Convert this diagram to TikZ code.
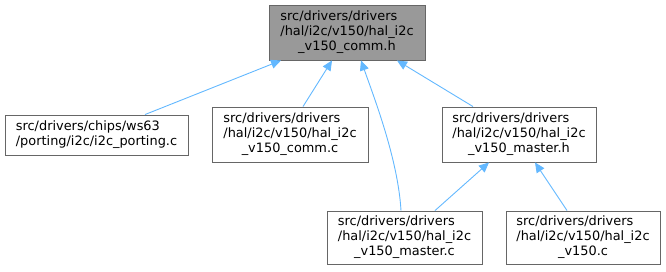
\documentclass[tikz,border=0pt]{standalone}
\usepackage{fontspec}
\setmainfont{DejaVu Sans}
\usetikzlibrary{arrows.meta}
\definecolor{edgeblue}{HTML}{63B8FF}
\definecolor{boxborder}{HTML}{666666}
\definecolor{rootfill}{HTML}{999999}
\newcommand{\threel}[3]{\begin{tabular}{@{}l@{}}#1\\#2\\\multicolumn{1}{@{}c@{}}{#3}\end{tabular}}
\newcommand{\twol}[2]{\begin{tabular}{@{}l@{}}#1\\#2\end{tabular}}
\tikzset{
  filebox/.style={draw=boxborder, line width=0.9pt, fill=white, inner sep=0pt,
    minimum width=155pt, minimum height=55pt, align=center,
    font=\fontsize{12.9}{15}\selectfont},
  rootbox/.style={filebox, fill=rootfill},
  dep/.style={draw=edgeblue, line width=0.9pt, -{Triangle[length=10pt,width=9pt]}}
}
\begin{document}
\begin{tikzpicture}[x=1pt,y=-1pt]
\useasboundingbox (0,0) rectangle (666,271);
\node[rootbox, minimum width=156pt] (top) at (347,32.5) {\threel{src/drivers/drivers}{/hal/i2c/v150/hal\_i2c}{\_v150\_comm.h}};
\node[filebox, minimum width=183pt, minimum height=40pt] (porting) at (96.5,135) {\twol{src/drivers/chips/ws63}{/porting/i2c/i2c\_porting.c}};
\node[filebox, minimum width=156pt] (comm) at (290,134.5) {\threel{src/drivers/drivers}{/hal/i2c/v150/hal\_i2c}{\_v150\_comm.c}};
\node[filebox, minimum width=154pt] (masterh) at (519,134.5) {\threel{src/drivers/drivers}{/hal/i2c/v150/hal\_i2c}{\_v150\_master.h}};
\node[filebox, minimum width=155pt, minimum height=53pt] (masterc) at (404.5,237.5) {\threel{src/drivers/drivers}{/hal/i2c/v150/hal\_i2c}{\_v150\_master.c}};
\node[filebox, minimum width=154pt, minimum height=53pt] (v150) at (583,237.5) {\threel{src/drivers/drivers}{/hal/i2c/v150/hal\_i2c}{\_v150.c}};
\draw[dep] ([xshift=48.5pt]porting.north) -- ([xshift=-66pt]top.south);
\draw[dep] ([xshift=13pt]comm.north) -- ([xshift=-15pt]top.south);
\draw[dep] ([xshift=-3.5pt]masterc.north) .. controls (398,160) and (375,100) .. ([xshift=14pt]top.south);
\draw[dep] ([xshift=-46pt]masterh.north) -- ([xshift=50pt]top.south);
\draw[dep] ([xshift=30.5pt]masterc.north) -- ([xshift=-30pt]masterh.south);
\draw[dep] ([xshift=-16pt]v150.north) -- ([xshift=16pt]masterh.south);
\end{tikzpicture}
\end{document}
